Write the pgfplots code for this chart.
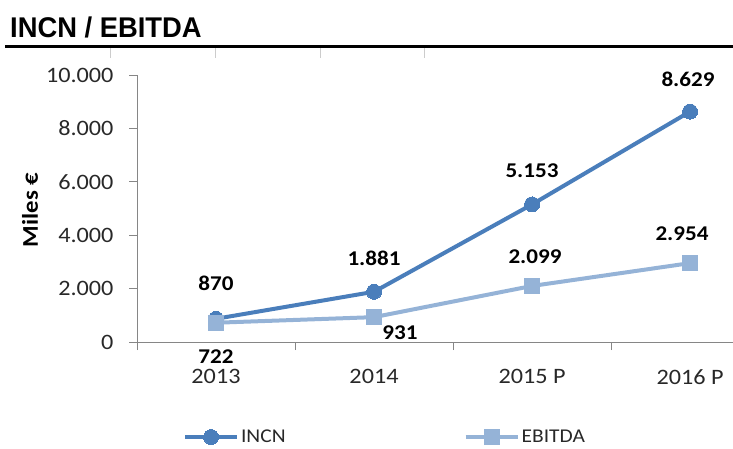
\documentclass[border=0pt]{standalone}
\usepackage{fontspec}
\setmainfont{Carlito}[FakeStretch=1.1]
\newfontfamily\titlefont{Liberation Sans}[FakeStretch=0.96]
\usepackage{pgfplots}
\pgfplotsset{compat=1.18}
\definecolor{incn}{RGB}{74,126,187}
\definecolor{ebitda}{RGB}{149,179,215}
\definecolor{axgray}{RGB}{134,134,134}
\definecolor{txt}{RGB}{40,40,40}
\pgfplotstableread{
x y dx dy
0 870 0 35
1 1881 0 33
2 5153 0 34
3 8629 -2 32
}\incn
\pgfplotstableread{
x y dx dy
0 722 0 -34
1 931 26 -16
2 2099 3 29
3 2954 -8 29
}\ebitda
\begin{document}
\begin{tikzpicture}
\useasboundingbox (0pt,0pt) rectangle (733pt,448pt);
\node[anchor=base west,inner sep=0pt,font=\titlefont\bfseries\fontsize{28.5}{30}\selectfont] at (10pt,410pt) {INCN / EBITDA};
\draw[line width=3pt,black] (5pt,401pt) -- (740pt,401pt);
\foreach \xx in {110,215,320,424} \draw[line width=1pt,black!20] (\xx pt,399.5pt) -- (\xx pt,390pt);
\begin{axis}[
  at={(137pt,106pt)}, anchor=south west,
  scale only axis, width=596pt, height=267pt,
  xmin=-0.5, xmax=3.272, ymin=0, ymax=10000,
  axis x line=bottom, axis y line=left,
  axis line style={-,draw=axgray,line width=1pt},
  xtick={0,1,2,3}, xticklabels={2013,2014,2015 P,2016 P},
  minor xtick={-0.5,0.5,1.5,2.5},
  ytick={0,2000,4000,6000,8000,10000},
  scaled y ticks=false,
  tick align=outside, major tick length=8pt, minor tick length=8pt,
  major x tick style={draw=none},
  minor x tick style={draw=axgray,line width=1pt},
  major y tick style={draw=axgray,line width=1pt},
  /pgf/number format/.cd, 1000 sep={.}, assume math mode=true, /pgfplots/.cd,
  tick label style={font=\fontsize{22}{25}\selectfont, text=txt},
  xticklabel style={anchor=north, inner sep=0pt, yshift=-19pt},
  yticklabel style={anchor=east, xshift=-12pt},
  ylabel={Miles €},
  ylabel style={at={(axis description cs:-0.1795,0.494)}, anchor=center, rotate=0, font=\bfseries\fontsize{22.5}{26}\selectfont},
  clip=false,
  nodes near coords,
  nodes near coords style={font=\bfseries\fontsize{21}{24}\selectfont, text=black, anchor=center, inner sep=0pt, xshift=\dx*1pt, yshift=\dy*1pt},
  visualization depends on={\thisrow{dx}\as\dx},
  visualization depends on={\thisrow{dy}\as\dy},
  legend columns=2,
  legend style={at={(axis description cs:0.077,-0.356)}, anchor=west, draw=none, fill=none, font=\fontsize{19.5}{22}\selectfont, text=txt, inner sep=0pt, /tikz/every even column/.append style={column sep=176pt}},
  legend image code/.code={\draw[mark repeat=2,mark phase=2,#1] plot coordinates {(0pt,0pt) (26pt,0pt) (52pt,0pt)};},
]
\addplot[color=incn, line width=4pt, mark=*, mark size=7.5pt, mark options={fill=incn, draw=incn, line width=0pt}] table[x=x,y=y] {\incn};
\addlegendentry{INCN}
\addplot[color=ebitda, line width=4pt, mark=square*, mark size=7.5pt, mark options={fill=ebitda, draw=ebitda, line width=0pt}] table[x=x,y=y] {\ebitda};
\addlegendentry{EBITDA}
\end{axis}
\end{tikzpicture}
\end{document}
